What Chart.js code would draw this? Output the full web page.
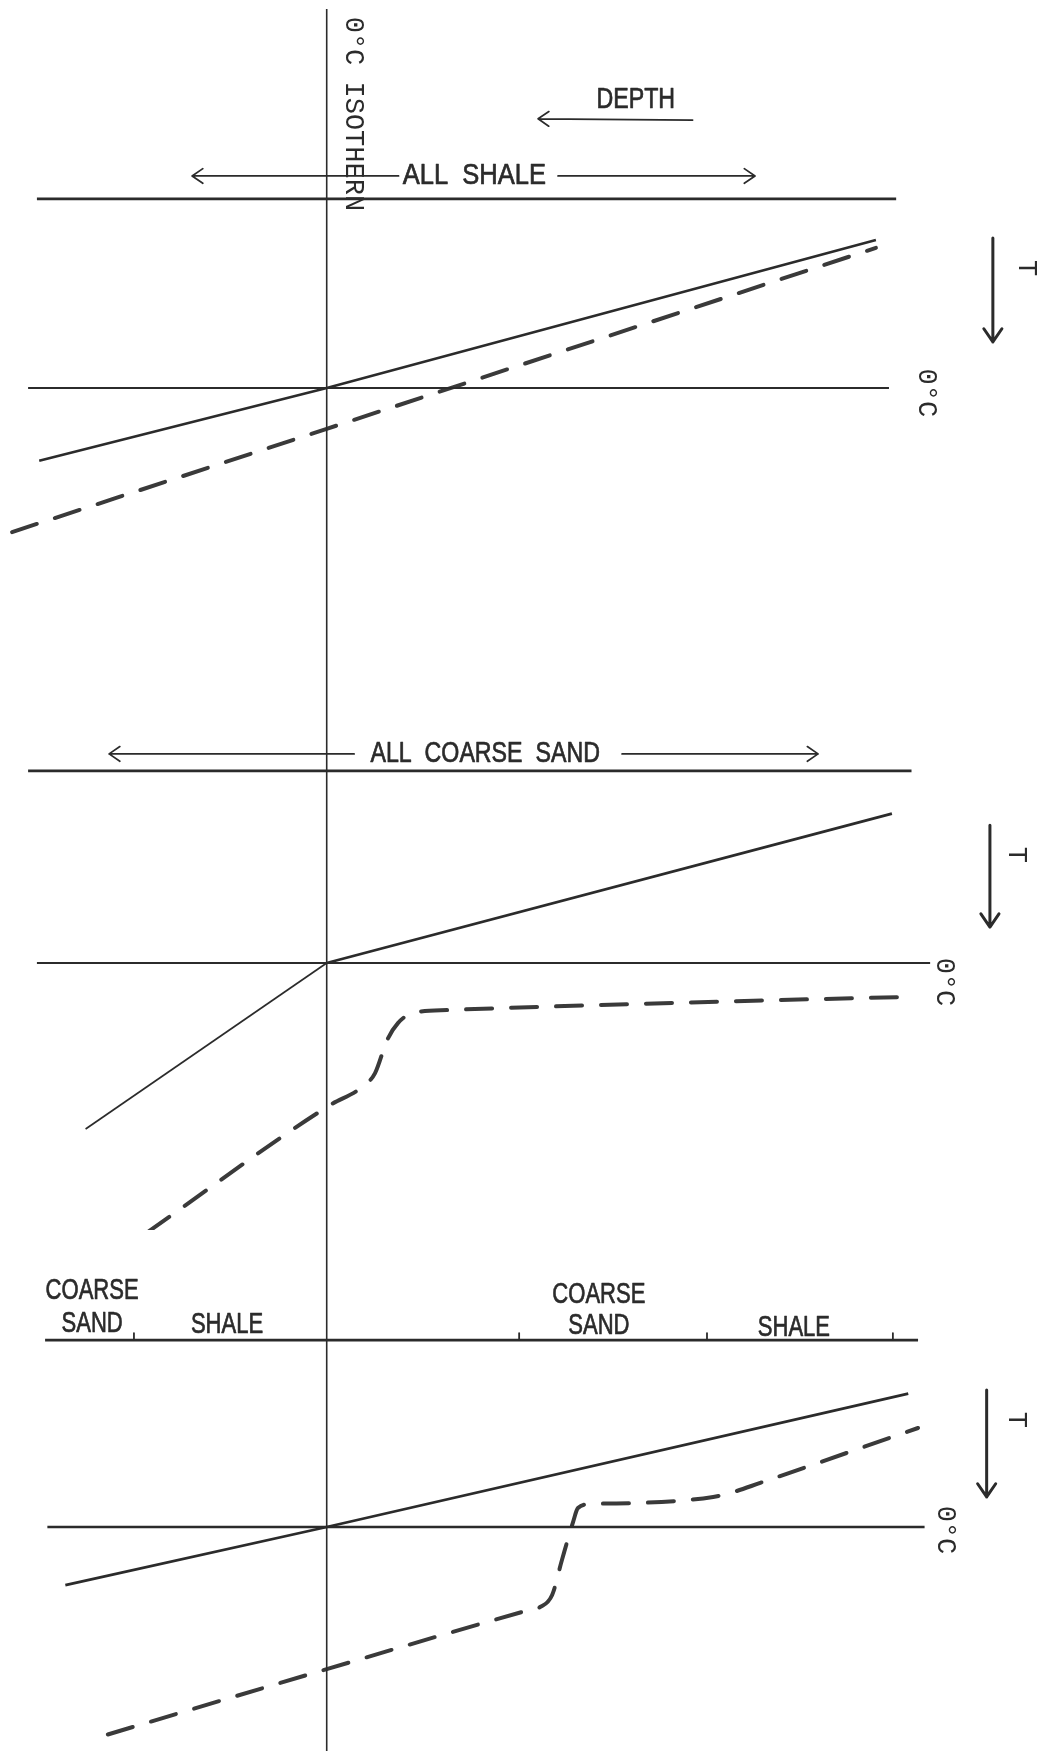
<!DOCTYPE html>
<html>
<head>
<meta charset="utf-8">
<title>Temperature profiles around the 0°C isotherm</title>
<script src="https://cdn.jsdelivr.net/npm/chart.js@4.4.1/dist/chart.umd.min.js"></script>
<style>
    html, body { margin: 0; padding: 0; background: #fff; }
    #page { position: relative; width: 1052px; height: 1751px; overflow: hidden; }
    #page canvas { position: absolute; left: 0; }
</style>
</head>
<body>
<div id="page">
    <canvas id="panel-shale" width="1052" height="600" style="top:0px"></canvas>
    <canvas id="panel-sand" width="1052" height="630" style="top:600px"></canvas>
    <canvas id="panel-mixed" width="1052" height="521" style="top:1230px"></canvas>
</div>
<script>
// Horizontal axis = depth (0 = the 0°C isotherm), vertical axis = temperature (0 = 0°C)
const depthRange = [-10, 22.2];
const isothermTop = 11.6;

// Panel 1 - all shale
const shaleSurfaceX = [-8.87, 17.43];
const shaleSurfaceY = [5.79, 5.79];
const shaleZeroX = [-9.14, 17.21];
const shaleSolidX = [-8.8, 0, 16.81];
const shaleSolidY = [-2.23, 0, 4.53];
const shaleDashedX = [-9.63, 0, 16.81];
const shaleDashedY = [-4.41, -1.25, 4.29];

// Panel 2 - all coarse sand
const sandSurfaceX = [-9.14, 17.9];
const sandSurfaceY = [5.88, 5.88];
const sandZeroX = [-8.87, 18.47];
const sandSolidX = [-7.38, 0, 17.3];
const sandSolidY = [-5.08, 0, 4.57];
const sandDashedX = [-5.47, 0.1, 1.08, 1.48, 1.85, 2.18, 2.64, 3.71, 10.63, 17.64];
const sandDashedY = [-8.23, -4.35, -3.8, -3.37, -2.36, -1.84, -1.53, -1.44, -1.22, -1.04];

// Panel 3 - alternating coarse sand / shale
const mixedSurfaceX = [-8.62, 18.1];
const mixedSurfaceY = [5.72, 5.72];
const mixedLayerTicks = [-5.9, 5.89, 11.64, 17.33];
const mixedZeroX = [-8.55, 18.3];
const mixedSolidX = [-8.0, 0, 17.8];
const mixedSolidY = [-1.78, 0, 4.08];
const mixedDashedX = [-6.7, 0, 5.98, 6.53, 6.9, 7.2, 7.54, 7.69, 8.06, 9.35, 11.83, 12.35, 13.27, 18.1];
const mixedDashedY = [-6.35, -4.35, -2.6, -2.45, -2.08, -1.01, 0.15, 0.58, 0.7, 0.73, 0.92, 1.04, 1.35, 3.03];

const INK = '#2b2b2b';
const DASH_INK = '#3a3a3a';
const PX_PER_UNIT = 1052 / (depthRange[1] - depthRange[0]);
const MONO = '27px "Liberation Mono", "DejaVu Sans Mono", monospace';
const LETTER = '29px "Liberation Sans", Arial, sans-serif';

function pts(xs, ys) {
    return xs.map((x, i) => ({ x: x, y: Array.isArray(ys) ? ys[i] : ys }));
}

function lineSet(points, style) {
    return Object.assign({
        data: points,
        showLine: true,
        pointRadius: 0,
        fill: false,
        clip: false,
        borderColor: INK,
        borderWidth: 2,
        tension: 0
    }, style);
}

function drawArrow(ctx, x1, y1, x2, y2, width, head) {
    const ang = Math.atan2(y2 - y1, x2 - x1);
    ctx.lineWidth = width;
    ctx.lineCap = 'round';
    ctx.lineJoin = 'round';
    ctx.beginPath();
    ctx.moveTo(x1, y1);
    ctx.lineTo(x2, y2);
    ctx.moveTo(x2 - head * Math.cos(ang - 0.6), y2 - head * Math.sin(ang - 0.6));
    ctx.lineTo(x2, y2);
    ctx.lineTo(x2 - head * Math.cos(ang + 0.6), y2 - head * Math.sin(ang + 0.6));
    ctx.stroke();
}

// draws arrows, layer ticks and the lettering in data coordinates
const notesPlugin = {
    id: 'notes',
    afterDatasetsDraw(chart, args, opts) {
        const ctx = chart.ctx;
        const xs = chart.scales.x;
        const ys = chart.scales.y;
        ctx.save();
        ctx.strokeStyle = INK;
        ctx.fillStyle = INK;

        (opts.arrows || []).forEach(a => {
            drawArrow(ctx,
                xs.getPixelForValue(a.from[0]), ys.getPixelForValue(a.from[1]),
                xs.getPixelForValue(a.to[0]), ys.getPixelForValue(a.to[1]),
                a.width || 1.7, a.head || 13);
        });

        if (opts.ticks) {
            ctx.lineWidth = 1.8;
            const base = ys.getPixelForValue(opts.ticks.y);
            opts.ticks.x.forEach(v => {
                const px = xs.getPixelForValue(v);
                ctx.beginPath();
                ctx.moveTo(px, base);
                ctx.lineTo(px, base - 7);
                ctx.stroke();
            });
        }

        (opts.labels || []).forEach(l => {
            ctx.save();
            ctx.translate(xs.getPixelForValue(l.at[0]), ys.getPixelForValue(l.at[1]));
            if (l.rotate) ctx.rotate(Math.PI / 2);
            ctx.scale(l.squeeze || 1, 1);
            ctx.font = l.font;
            ctx.textAlign = 'center';
            ctx.textBaseline = 'middle';
            ctx.fillText(l.text, 0, 0);
            if (l.squeeze) {
                // hand lettering is a little heavier than the regular face
                ctx.lineWidth = 0.7;
                ctx.strokeText(l.text, 0, 0);
            }
            ctx.restore();
        });
        ctx.restore();
    }
};

function makePanel(canvasId, zeroPx, datasets, notes) {
    const canvas = document.getElementById(canvasId);
    const yMax = zeroPx / PX_PER_UNIT;
    const yMin = -(canvas.height - zeroPx) / PX_PER_UNIT;
    const isoTop = notes.isoTop !== undefined ? notes.isoTop : yMax;

    const all = [lineSet(pts([0, 0], [isoTop, yMin]), { borderWidth: 1.6 })].concat(datasets);

    return new Chart(canvas, {
        type: 'scatter',
        data: { datasets: all },
        plugins: [notesPlugin],
        options: {
            responsive: false,
            animation: false,
            events: [],
            layout: { padding: 0 },
            plugins: {
                legend: { display: false },
                tooltip: { enabled: false },
                notes: notes
            },
            scales: {
                x: { type: 'linear', min: depthRange[0], max: depthRange[1], display: false },
                y: { type: 'linear', min: yMin, max: yMax, display: false }
            }
        }
    });
}

const dashedStyle = {
    borderColor: DASH_INK,
    borderWidth: 4,
    borderDash: [26, 19],
    borderCapStyle: 'round',
    cubicInterpolationMode: 'monotone'
};

// Panel 1
makePanel('panel-shale', 388, [
    lineSet(pts(shaleSurfaceX, shaleSurfaceY), { borderWidth: 2.8 }),
    lineSet(pts(shaleZeroX, 0), { borderWidth: 2.2 }),
    lineSet(pts(shaleSolidX, shaleSolidY), { borderWidth: 2.6 }),
    lineSet(pts(shaleDashedX, shaleDashedY), dashedStyle)
], {
    isoTop: isothermTop,
    arrows: [
        { from: [11.2, 8.2], to: [6.47, 8.24] },
        { from: [2.2, 6.49], to: [-4.12, 6.49] },
        { from: [7.08, 6.49], to: [13.11, 6.49] },
        { from: [20.39, 4.59], to: [20.39, 1.41], width: 3, head: 16 }
    ],
    labels: [
        { text: '0°C ISOTHERN', at: [0.8, 8.39], font: MONO, rotate: true },
        { text: 'DEPTH', at: [9.46, 8.81], font: LETTER, squeeze: 0.8 },
        { text: 'ALL  SHALE', at: [4.52, 6.49], font: LETTER, squeeze: 0.88 },
        { text: 'T', at: [21.4, 3.67], font: MONO, rotate: true },
        { text: '0°C', at: [18.34, -0.15], font: MONO, rotate: true }
    ]
});

// Panel 2
makePanel('panel-sand', 363, [
    lineSet(pts(sandSurfaceX, sandSurfaceY), { borderWidth: 2.8 }),
    lineSet(pts(sandZeroX, 0), { borderWidth: 2.2 }),
    lineSet(pts(sandSolidX, sandSolidY), {
        borderWidth: 2.6,
        segment: { borderWidth: c => (c.p0DataIndex === 0 ? 1.7 : 2.8) }
    }),
    lineSet(pts(sandDashedX, sandDashedY), dashedStyle)
], {
    arrows: [
        { from: [0.84, 6.4], to: [-6.66, 6.4] },
        { from: [9.04, 6.4], to: [15.04, 6.4] },
        { from: [20.3, 4.22], to: [20.3, 1.1], width: 3, head: 16 }
    ],
    labels: [
        { text: 'ALL  COARSE  SAND', at: [4.85, 6.4], font: LETTER, squeeze: 0.8 },
        { text: 'T', at: [21.1, 3.31], font: MONO, rotate: true },
        { text: '0°C', at: [18.9, -0.58], font: MONO, rotate: true }
    ]
});

// Panel 3
makePanel('panel-mixed', 297, [
    lineSet(pts(mixedSurfaceX, mixedSurfaceY), { borderWidth: 2.8 }),
    lineSet(pts(mixedZeroX, 0), { borderWidth: 2.4 }),
    lineSet(pts(mixedSolidX, mixedSolidY), { borderWidth: 2.8 }),
    lineSet(pts(mixedDashedX, mixedDashedY), dashedStyle)
], {
    ticks: { x: mixedLayerTicks, y: mixedSurfaceY[0] },
    arrows: [
        { from: [20.2, 4.19], to: [20.2, 0.92], width: 3, head: 16 }
    ],
    labels: [
        { text: 'COARSE', at: [-7.18, 7.22], font: LETTER, squeeze: 0.76 },
        { text: 'SAND', at: [-7.18, 6.21], font: LETTER, squeeze: 0.76 },
        { text: 'SHALE', at: [-3.05, 6.18], font: LETTER, squeeze: 0.76 },
        { text: 'COARSE', at: [8.33, 7.1], font: LETTER, squeeze: 0.76 },
        { text: 'SAND', at: [8.33, 6.15], font: LETTER, squeeze: 0.76 },
        { text: 'SHALE', at: [14.3, 6.09], font: LETTER, squeeze: 0.76 },
        { text: 'T', at: [21.1, 3.28], font: MONO, rotate: true },
        { text: '0°C', at: [18.93, -0.09], font: MONO, rotate: true }
    ]
});
</script>
</body>
</html>
